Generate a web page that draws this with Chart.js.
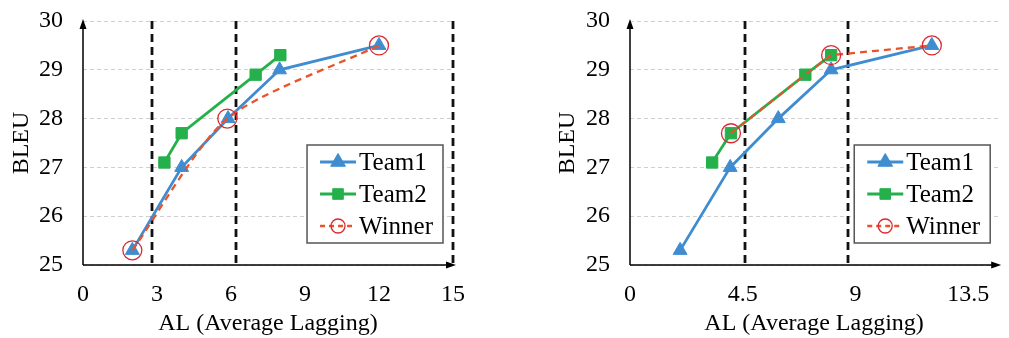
<!DOCTYPE html>
<html>
<head>
<meta charset="utf-8">
<script src="https://cdn.jsdelivr.net/npm/chart.js@4.4.1/dist/chart.umd.min.js"></script>
<style>
  html, body { margin: 0; padding: 0; background: #fff; }
  body { width: 1009px; height: 338px; position: relative; overflow: hidden; }
  .panel { position: absolute; top: 0; height: 338px; }
  #leftPanel { left: 0; width: 480px; }
  #rightPanel { left: 540px; width: 469px; }
</style>
</head>
<body>
<div class="panel" id="leftPanel"><canvas id="leftChart" width="480" height="338"></canvas></div>
<div class="panel" id="rightPanel"><canvas id="rightChart" width="469" height="338"></canvas></div>
<script>
// ---- data, left panel ----
const leftTeam1AL = [2.0, 4.0, 5.88, 7.97, 12.0];
const leftTeam1Bleu = [25.3, 27.0, 28.0, 29.0, 29.5];
const leftTeam2AL = [3.3, 4.0, 7.0, 8.0];
const leftTeam2Bleu = [27.1, 27.7, 28.9, 29.3];
const leftWinnerAL = [2.0, 5.85, 12.0];
const leftWinnerBleu = [25.3, 28.0, 29.5];
const leftCutoffs = [2.8, 6.2, 15];
const leftXTicks = [0, 3, 6, 9, 12, 15];

// ---- data, right panel ----
const rightTeam1AL = [2.0, 4.0, 5.92, 8.03, 12.05];
const rightTeam1Bleu = [25.3, 27.0, 28.0, 29.0, 29.5];
const rightTeam2AL = [3.28, 4.03, 7.0, 8.03];
const rightTeam2Bleu = [27.1, 27.7, 28.9, 29.3];
const rightWinnerAL = [4.03, 7.0, 8.03, 12.05];
const rightWinnerBleu = [27.7, 28.9, 29.3, 29.5];
const rightWinnerMarks = [true, false, true, true];
const rightCutoffs = [4.6, 8.69];
const rightXTicks = [0, 4.5, 9, 13.5];

const yTicks = [25, 26, 27, 28, 29, 30];

const FONT = '"Liberation Serif", "Times New Roman", serif';
const BLUE = '#3f8dd0';
const GREEN = '#25b04b';
const ORANGE = '#e9532b';
const RED = '#d92a30';

const toPoints = (xs, ys) => xs.map((x, i) => ({ x: x, y: ys[i] }));

function team1(xs, ys) {
  return {
    label: 'Team1', data: toPoints(xs, ys), order: 2,
    borderColor: BLUE, borderWidth: 2.8, tension: 0,
    pointStyle: 'triangle', pointRadius: 8, pointBackgroundColor: BLUE,
    pointBorderColor: BLUE, pointBorderWidth: 1, legendRadius: 8.5
  };
}

function team2(xs, ys) {
  return {
    label: 'Team2', data: toPoints(xs, ys), order: 1,
    borderColor: GREEN, borderWidth: 2.8, tension: 0,
    pointStyle: 'rect', pointRadius: 8, pointBackgroundColor: GREEN,
    pointBorderColor: GREEN, pointBorderWidth: 1, legendRadius: 7.5
  };
}

function winner(xs, ys, marks, tension) {
  return {
    label: 'Winner', data: toPoints(xs, ys), order: 0,
    borderColor: ORANGE, borderWidth: 2.3, borderDash: [7, 5], tension: tension,
    pointStyle: 'circle', pointRadius: marks ? marks.map(m => (m ? 9.5 : 0)) : 9.5,
    pointBackgroundColor: 'rgba(0,0,0,0)', pointBorderColor: RED,
    pointBorderWidth: 1.3, legendRadius: 7
  };
}

// dashed cut-off lines, arrowed axes and the boxed legend
const decorPlugin = {
  id: 'decor',
  beforeDatasetsDraw(chart, args, opts) {
    const { ctx, chartArea: a, scales: { x } } = chart;
    ctx.save();
    ctx.strokeStyle = '#111';
    ctx.lineWidth = 2.8;
    ctx.setLineDash([8, 5]);
    opts.cutoffs.forEach(v => {
      const px = Math.round(x.getPixelForValue(v));
      ctx.beginPath();
      ctx.moveTo(px, a.top);
      ctx.lineTo(px, a.bottom);
      ctx.stroke();
    });
    ctx.setLineDash([]);
    ctx.strokeStyle = '#000';
    ctx.fillStyle = '#000';
    ctx.lineWidth = 1.5;
    ctx.beginPath();
    ctx.moveTo(a.left, a.bottom);
    ctx.lineTo(a.left, a.top + 4);
    ctx.moveTo(a.left, a.bottom);
    ctx.lineTo(a.right, a.bottom);
    ctx.stroke();
    ctx.beginPath();
    ctx.moveTo(a.left, a.top - 2);
    ctx.lineTo(a.left - 3.5, a.top + 8);
    ctx.lineTo(a.left + 3.5, a.top + 8);
    ctx.closePath();
    ctx.fill();
    ctx.beginPath();
    ctx.moveTo(a.right + 3, a.bottom);
    ctx.lineTo(a.right - 7, a.bottom - 3.5);
    ctx.lineTo(a.right - 7, a.bottom + 3.5);
    ctx.closePath();
    ctx.fill();
    ctx.restore();
  },
  afterDraw(chart, args, opts) {
    const { ctx, chartArea: a } = chart;
    const sets = chart.data.datasets;
    ctx.save();
    ctx.font = '25px ' + FONT;
    const textW = Math.max(...sets.map(d => ctx.measureText(d.label).width));
    const rowH = 32, padL = 13, sample = 36, gap = 3, padR = 10, h = 98;
    const w = padL + sample + gap + textW + padR;
    const right = a.right - opts.legendRight;
    const bottom = a.bottom - 22;
    const left = right - w, top = bottom - h;
    ctx.fillStyle = '#fff';
    ctx.fillRect(left, top, w, h);
    ctx.strokeStyle = '#555';
    ctx.lineWidth = 1.5;
    ctx.strokeRect(left, top, w, h);
    sets.forEach((d, i) => {
      const cy = top + 17 + i * rowH;
      const x0 = left + padL;
      ctx.strokeStyle = d.borderColor;
      ctx.lineWidth = d.borderWidth;
      ctx.setLineDash(d.borderDash ? [5, 4] : []);
      ctx.beginPath();
      ctx.moveTo(x0, cy);
      ctx.lineTo(x0 + sample, cy);
      ctx.stroke();
      ctx.setLineDash([]);
      ctx.fillStyle = d.pointBackgroundColor;
      ctx.strokeStyle = d.pointBorderColor;
      ctx.lineWidth = d.pointBorderWidth;
      Chart.helpers.drawPoint(ctx, {
        pointStyle: d.pointStyle, radius: d.legendRadius, rotation: 0,
        borderWidth: d.pointBorderWidth
      }, x0 + sample / 2, cy);
      ctx.fillStyle = '#000';
      ctx.textAlign = 'left';
      ctx.textBaseline = 'middle';
      ctx.fillText(d.label, x0 + sample + gap, cy + 1);
    });
    ctx.restore();
  }
};

function makeChart(canvasId, datasets, cfg) {
  const tickFont = { family: FONT, size: 24 };
  return new Chart(document.getElementById(canvasId), {
    type: 'line',
    data: { datasets: datasets },
    plugins: [decorPlugin],
    options: {
      responsive: false,
      animation: false,
      layout: { padding: { left: 0, right: cfg.rightPad, top: 21, bottom: 0 } },
      plugins: {
        legend: { display: false },
        tooltip: { enabled: false },
        decor: { cutoffs: cfg.cutoffs, legendRight: cfg.legendRight }
      },
      datasets: { line: { clip: false } },
      scales: {
        x: {
          type: 'linear', min: 0, max: cfg.xMax,
          afterBuildTicks: s => { s.ticks = cfg.xTicks.map(v => ({ value: v })); },
          afterFit: s => { s.height = 73; s.paddingLeft = 0; s.paddingRight = 0; },
          grid: { display: false, drawTicks: false },
          border: { display: false },
          ticks: { font: tickFont, color: '#000', padding: 15, maxRotation: 0, autoSkip: false, callback: v => String(v) },
          title: { display: true, text: 'AL (Average Lagging)', font: tickFont, color: '#000', padding: 0 }
        },
        y: {
          min: 25, max: 30,
          afterBuildTicks: s => { s.ticks = yTicks.map(v => ({ value: v })); },
          afterFit: s => { s.width = cfg.yWidth; s.paddingTop = 0; s.paddingBottom = 0; },
          grid: { color: '#cfcfcf', lineWidth: 1, drawTicks: false },
          border: { display: false, dash: [4, 3] },
          ticks: { font: tickFont, color: '#000', padding: 20, callback: v => String(v) },
          title: { display: true, text: 'BLEU', font: tickFont, color: '#000', padding: { top: cfg.titlePad, bottom: 0 } }
        }
      }
    }
  });
}

makeChart('leftChart', [
  team1(leftTeam1AL, leftTeam1Bleu),
  team2(leftTeam2AL, leftTeam2Bleu),
  winner(leftWinnerAL, leftWinnerBleu, null, 0.25)
], { xMax: 15, xTicks: leftXTicks, cutoffs: leftCutoffs, rightPad: 27, yWidth: 83, legendRight: 10, titlePad: 7 });

makeChart('rightChart', [
  team1(rightTeam1AL, rightTeam1Bleu),
  team2(rightTeam2AL, rightTeam2Bleu),
  winner(rightWinnerAL, rightWinnerBleu, rightWinnerMarks, 0)
], { xMax: 14.7, xTicks: rightXTicks, cutoffs: rightCutoffs, rightPad: 6, yWidth: 90, legendRight: 8, titlePad: 13 });
</script>
</body>
</html>
